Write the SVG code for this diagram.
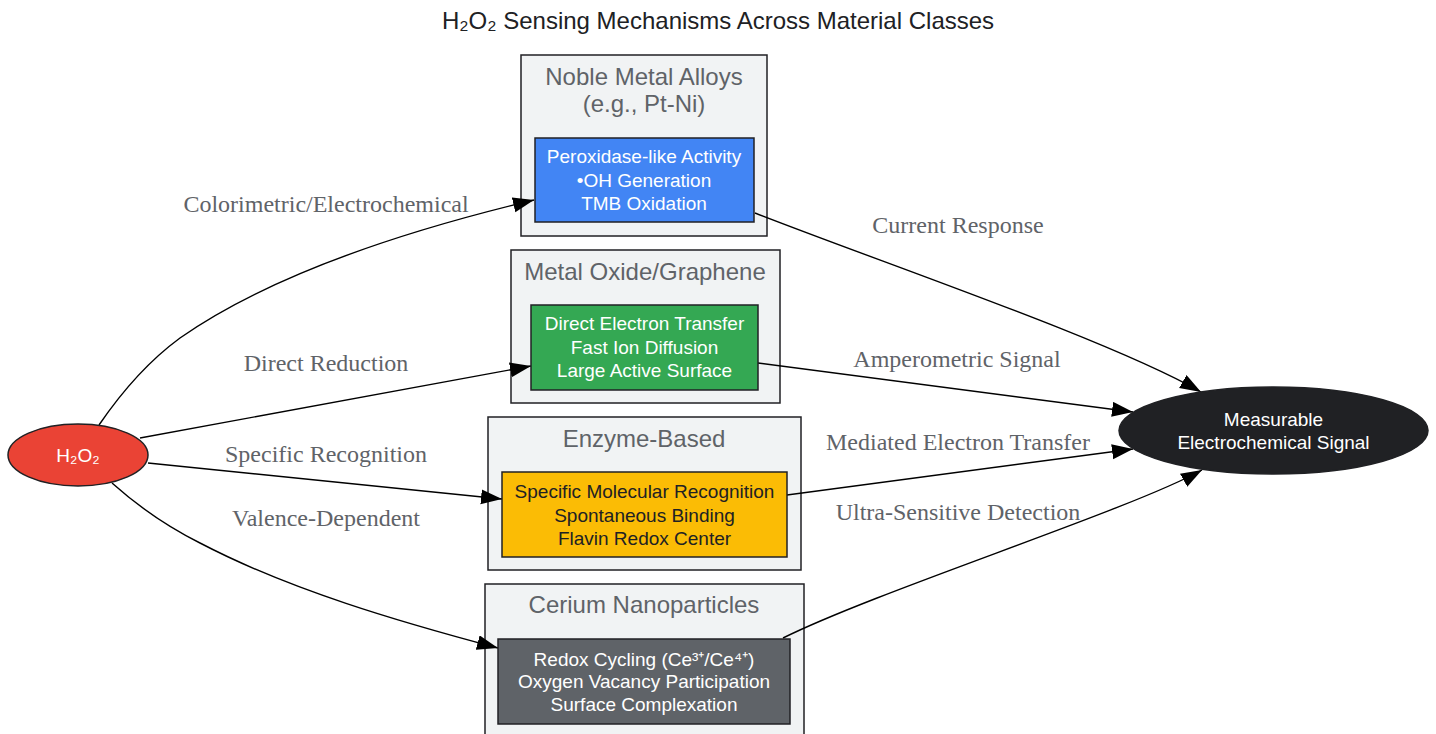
<svg xmlns="http://www.w3.org/2000/svg" width="1436" height="734" viewBox="0 0 1436 734">
<defs>
<style>
.cl{fill:#F1F3F4;stroke:#202124;stroke-width:1.5}
.clt{font-family:"Liberation Sans",Arial,sans-serif;font-size:24px;fill:#5F6368;text-anchor:middle}
.nt{font-family:"Liberation Sans",Arial,sans-serif;font-size:19px;fill:#FFFFFF;text-anchor:middle}
.nb{stroke:#202124;stroke-width:1.5}
.e{fill:none;stroke:#000;stroke-width:1.4;marker-end:url(#ah)}
.el{font-family:"Liberation Serif","Times New Roman",serif;font-size:24px;fill:#5F6368;text-anchor:middle}
</style>
<marker id="ah" markerUnits="userSpaceOnUse" markerWidth="22" markerHeight="16" refX="21" refY="7.5" orient="auto">
<path d="M0,0 L21,7.5 L0,15 z" fill="#000"/>
</marker>
</defs>
<rect width="1436" height="734" fill="#FFFFFF"/>
<text x="718" y="29" font-family="Liberation Sans,Arial,sans-serif" font-size="24" fill="#202124" text-anchor="middle">H₂O₂ Sensing Mechanisms Across Material Classes</text>

<g id="cluster-noble">
<rect class="cl" x="521" y="55" width="246" height="181"/>
<text class="clt" x="644" y="85">Noble Metal Alloys</text>
<text class="clt" x="644" y="112">(e.g., Pt-Ni)</text>
</g>
<g id="cluster-oxide">
<rect class="cl" x="511" y="250" width="269" height="153"/>
<text class="clt" x="645" y="280">Metal Oxide/Graphene</text>
</g>
<g id="cluster-enzyme">
<rect class="cl" x="488" y="417" width="313" height="153"/>
<text class="clt" x="644" y="447">Enzyme-Based</text>
</g>
<g id="cluster-cerium">
<rect class="cl" x="485" y="584" width="319" height="170"/>
<text class="clt" x="644" y="613">Cerium Nanoparticles</text>
</g>

<g id="edges">
<path class="e" d="M99,425 C125,387 150,360 180,338 C270,275 400,232 534,200"/>
<path class="e" d="M140,438 L531,366"/>
<path class="e" d="M148,463 L502,499"/>
<path class="e" d="M112,483 C140,508 170,528 200,543 C290,590 400,622 498,648"/>
<path class="e" d="M755,213 C880,262 1110,340 1201,392"/>
<path class="e" d="M758,363 L1133,412"/>
<path class="e" d="M787,495 L1133,449"/>
<path class="e" d="M783,638 C880,590 1130,510 1202,470"/>
<text class="el" x="326" y="212">Colorimetric/Electrochemical</text>
<text class="el" x="326" y="371">Direct Reduction</text>
<text class="el" x="326" y="462">Specific Recognition</text>
<text class="el" x="326" y="526">Valence-Dependent</text>
<text class="el" x="958" y="233">Current Response</text>
<text class="el" x="957" y="367">Amperometric Signal</text>
<text class="el" x="958" y="450">Mediated Electron Transfer</text>
<text class="el" x="958" y="520">Ultra-Sensitive Detection</text>
</g>

<g id="h2o2">
<ellipse class="nb" cx="78" cy="455" rx="70" ry="31" fill="#EA4335"/>
<text class="nt" x="78" y="462">H₂O₂</text>
</g>
<g id="noble">
<rect class="nb" x="535" y="138" width="219" height="84" fill="#4285F4"/>
<text class="nt" x="644" y="163">Peroxidase-like Activity</text>
<text class="nt" x="644" y="187">•OH Generation</text>
<text class="nt" x="644" y="210">TMB Oxidation</text>
</g>
<g id="oxide">
<rect class="nb" x="531" y="305" width="227" height="85" fill="#34A853"/>
<text class="nt" x="644.5" y="330">Direct Electron Transfer</text>
<text class="nt" x="644.5" y="354">Fast Ion Diffusion</text>
<text class="nt" x="644.5" y="377">Large Active Surface</text>
</g>
<g id="enzyme">
<rect class="nb" x="502" y="472" width="285" height="85" fill="#FBBC05"/>
<text class="nt" x="644.5" y="498" fill="#202124" style="fill:#202124">Specific Molecular Recognition</text>
<text class="nt" x="644.5" y="522" style="fill:#202124">Spontaneous Binding</text>
<text class="nt" x="644.5" y="545" style="fill:#202124">Flavin Redox Center</text>
</g>
<g id="cerium">
<rect class="nb" x="498" y="639" width="292" height="85" fill="#5F6368"/>
<text class="nt" x="644" y="666">Redox Cycling (Ce³⁺/Ce⁴⁺)</text>
<text class="nt" x="644" y="688">Oxygen Vacancy Participation</text>
<text class="nt" x="644" y="711">Surface Complexation</text>
</g>
<g id="signal">
<ellipse class="nb" cx="1273.5" cy="430.5" rx="154.5" ry="43.5" fill="#202124"/>
<text class="nt" x="1273.5" y="426">Measurable</text>
<text class="nt" x="1273.5" y="449">Electrochemical Signal</text>
</g>
</svg>
